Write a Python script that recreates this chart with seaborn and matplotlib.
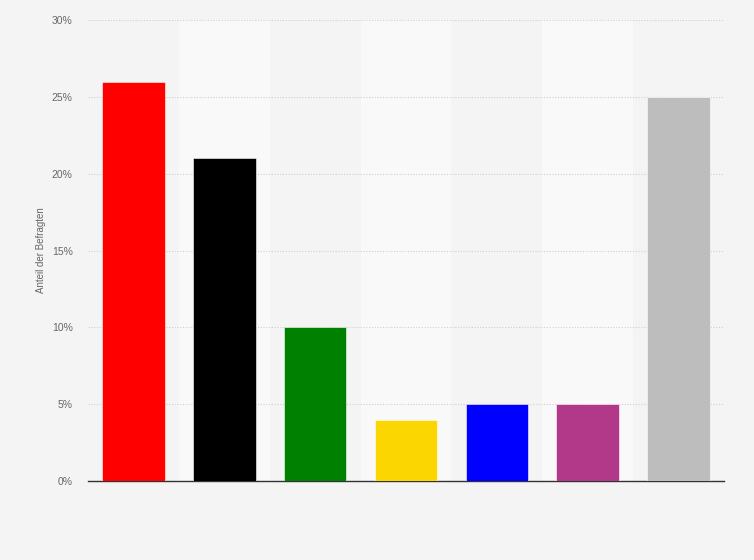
import matplotlib
matplotlib.use("Agg")
import matplotlib.pyplot as plt
import seaborn as sns
import pandas as pd
from matplotlib.ticker import PercentFormatter

# Werte
categories = ["A", "B", "C", "D", "E", "F", "G"]
values = [26, 21, 10, 4, 5, 5, 25]
colors = ["#ff0000", "#000000", "#008000", "#fcd600", "#0000ff", "#b2388a", "#bdbdbd"]
yticks = [0, 5, 10, 15, 20, 25, 30]

data = pd.DataFrame({"kategorie": categories, "anteil": values})

sns.set_style("white")
plt.rcParams["font.family"] = ["Liberation Sans", "DejaVu Sans"]

fig = plt.figure(figsize=(7.54, 5.6), dpi=100)
fig.patch.set_facecolor("#f4f4f4")
ax = fig.add_axes([0.1167, 0.141, 0.8435, 0.8232])
ax.set_facecolor("#f4f4f4")

# abwechselnde Spaltenhintergruende
for i in range(len(categories)):
    if i % 2 == 1:
        ax.axvspan(i - 0.5, i + 0.5, color="#f9f9f9", zorder=0, lw=0)

sns.barplot(data=data, x="kategorie", y="anteil", hue="kategorie",
            palette=colors, saturation=1, legend=False, width=0.69, ax=ax,
            edgecolor="#ffffff", linewidth=0.4, zorder=3)

ax.set_xlim(-0.5, len(categories) - 0.5)
ax.set_ylim(0, 30)
ax.set_yticks(yticks)
ax.yaxis.set_major_formatter(PercentFormatter(decimals=0))
ax.grid(axis="y", color="#cfcfcf", linestyle=(0, (1, 1.5)), linewidth=0.8, zorder=1)
ax.set_axisbelow(True)

ax.set_xticks([])
ax.set_xlabel("")
ax.set_ylabel("Anteil der Befragten", fontsize=7, color="#666666", labelpad=4)
ax.tick_params(axis="y", length=0, labelsize=7.5, labelcolor="#666666", pad=11)

for side in ["top", "right", "left"]:
    ax.spines[side].set_visible(False)
ax.spines["bottom"].set_color("#333333")
ax.spines["bottom"].set_linewidth(1)

fig.savefig("out.png", dpi=100, facecolor=fig.get_facecolor())
